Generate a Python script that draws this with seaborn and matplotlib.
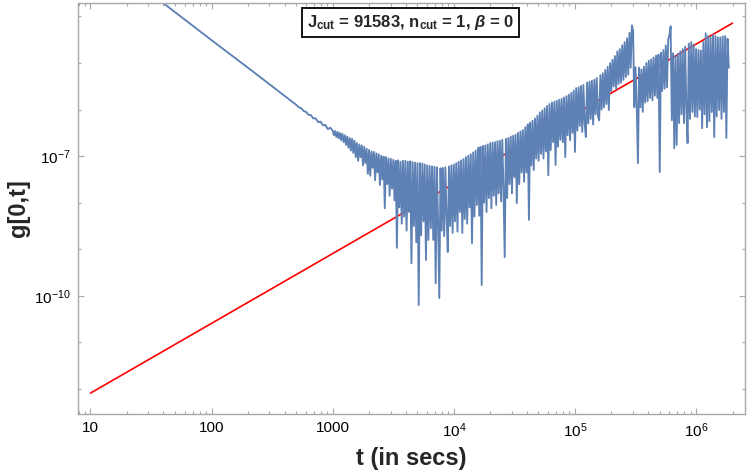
import matplotlib
matplotlib.use("Agg")
import matplotlib.pyplot as plt
from matplotlib.ticker import NullFormatter
import seaborn as sns
import pandas as pd
import numpy as np

# blue curve as log10(t), log10(g)
log_t = [1.40, 2.00, 2.30, 2.50, 2.60,
         2.70, 2.72, 2.74, 2.76, 2.78, 2.80, 2.82, 2.84, 2.86, 2.88, 2.90, 2.92, 2.94, 2.96, 2.98,
         3.00, 3.01, 3.02, 3.03, 3.04, 3.05, 3.06, 3.07, 3.08, 3.09,
         3.10, 3.11, 3.12, 3.13, 3.14, 3.15, 3.16, 3.17, 3.18, 3.19,
         3.20, 3.21, 3.22, 3.23, 3.24, 3.25, 3.26, 3.27, 3.28, 3.29,
         3.30, 3.31, 3.32, 3.33, 3.34, 3.35, 3.36, 3.37, 3.38, 3.39,
         3.40, 3.41, 3.42, 3.43, 3.44, 3.45, 3.46, 3.47, 3.48, 3.49,
         3.50, 3.51, 3.52, 3.53, 3.54, 3.55, 3.56, 3.57, 3.58, 3.59,
         3.60, 3.61, 3.62, 3.63, 3.64, 3.65, 3.66, 3.67, 3.68, 3.69,
         3.70, 3.71, 3.72, 3.73, 3.74, 3.75, 3.76, 3.77, 3.78, 3.79,
         3.80, 3.81, 3.82, 3.83, 3.84, 3.85, 3.86, 3.87, 3.88, 3.89,
         3.90, 3.91, 3.92, 3.93, 3.94, 3.95, 3.96, 3.97, 3.98, 3.99,
         4.00, 4.01, 4.02, 4.03, 4.04, 4.05, 4.06, 4.07, 4.08, 4.09,
         4.10, 4.11, 4.12, 4.13, 4.14, 4.15, 4.16, 4.17, 4.18, 4.19,
         4.20, 4.21, 4.22, 4.23, 4.24, 4.25, 4.26, 4.27, 4.28, 4.29,
         4.30, 4.31, 4.32, 4.33, 4.34, 4.35, 4.36, 4.37, 4.38, 4.39,
         4.40, 4.41, 4.42, 4.43, 4.44, 4.45, 4.46, 4.47, 4.48, 4.49,
         4.50, 4.51, 4.52, 4.53, 4.54, 4.55, 4.56, 4.57, 4.58, 4.59,
         4.60, 4.61, 4.62, 4.63, 4.64, 4.65, 4.66, 4.67, 4.68, 4.69,
         4.70, 4.71, 4.72, 4.73, 4.74, 4.75, 4.76, 4.77, 4.78, 4.79,
         4.80, 4.81, 4.82, 4.83, 4.84, 4.85, 4.86, 4.87, 4.88, 4.89,
         4.90, 4.91, 4.92, 4.93, 4.94, 4.95, 4.96, 4.97, 4.98, 4.99,
         5.00, 5.01, 5.02, 5.03, 5.04, 5.05, 5.06, 5.07, 5.08, 5.09,
         5.10, 5.11, 5.12, 5.13, 5.14, 5.15, 5.16, 5.17, 5.18, 5.19,
         5.20, 5.21, 5.22, 5.23, 5.24, 5.25, 5.26, 5.27, 5.28, 5.29,
         5.30, 5.31, 5.32, 5.33, 5.34, 5.35, 5.36, 5.37, 5.38, 5.39,
         5.40, 5.41, 5.42, 5.43, 5.44, 5.45, 5.46, 5.47, 5.48, 5.49,
         5.50, 5.51, 5.52, 5.53, 5.54, 5.55, 5.56, 5.57, 5.58, 5.59,
         5.60, 5.61, 5.62, 5.63, 5.64, 5.65, 5.66, 5.67, 5.68, 5.69,
         5.70, 5.71, 5.72, 5.73, 5.74, 5.75, 5.76, 5.77, 5.78, 5.79,
         5.80, 5.81, 5.82, 5.83, 5.84, 5.85, 5.86, 5.87, 5.88, 5.89,
         5.90, 5.91, 5.92, 5.93, 5.94, 5.95, 5.96, 5.97, 5.98, 5.99,
         6.00, 6.01, 6.02, 6.03, 6.04, 6.05, 6.06, 6.07, 6.08, 6.09,
         6.10, 6.11, 6.12, 6.13, 6.14, 6.15, 6.16, 6.17, 6.18, 6.19,
         6.20, 6.21, 6.22, 6.23, 6.24, 6.25, 6.26, 6.27]
log_g = [-3.31, -4.51, -5.10, -5.50, -5.70,
         -5.90, -5.95, -5.97, -6.03, -6.05, -6.11, -6.12, -6.19, -6.19, -6.27, -6.26, -6.34, -6.33, -6.42, -6.39,
         -6.45, -6.55, -6.46, -6.59, -6.48, -6.62, -6.50, -6.66, -6.52, -6.70,
         -6.55, -6.76, -6.58, -6.82, -6.61, -6.88, -6.63, -6.93, -6.67, -7.02,
         -6.72, -7.10, -6.75, -7.02, -6.77, -7.20, -6.80, -7.15, -6.84, -7.38,
         -6.87, -7.42, -6.90, -7.25, -6.91, -7.52, -6.94, -7.35, -6.96, -7.62,
         -6.99, -7.50, -7.01, -8.12, -7.02, -7.60, -7.05, -7.85, -7.06, -7.70,
         -7.08, -7.95, -7.10, -8.97, -7.09, -8.10, -7.12, -8.45, -7.10, -8.30,
         -7.10, -8.60, -7.12, -8.20, -7.11, -9.30, -7.13, -8.50, -7.14, -8.85,
         -7.15, -10.20, -7.15, -8.70, -7.16, -8.40, -7.18, -9.23, -7.20, -8.80,
         -7.21, -8.55, -7.22, -8.80, -7.23, -9.73, -7.24, -8.40, -10.05, -7.26,
         -8.60, -7.25, -8.72, -7.24, -8.30, -9.06, -7.22, -8.50, -7.20, -8.65,
         -7.18, -8.40, -7.15, -8.62, -7.12, -8.20, -7.09, -8.65, -7.06, -8.35,
         -7.02, -8.45, -6.99, -8.10, -6.96, -8.87, -6.92, -8.30, -6.88, -8.05,
         -6.82, -8.28, -6.80, -9.77, -6.78, -8.00, -6.77, -8.20, -6.75, -7.90,
         -6.72, -8.12, -6.71, -7.85, -6.70, -8.05, -6.68, -7.80, -6.67, -7.97,
         -6.65, -7.70, -9.17, -6.63, -7.90, -6.61, -7.60, -6.58, -7.80, -6.56,
         -7.45, -6.54, -8.01, -6.50, -7.60, -6.47, -7.35, -6.44, -7.55, -6.38,
         -7.35, -6.32, -8.37, -6.28, -7.20, -6.24, -7.30, -6.19, -7.05, -6.13,
         -7.10, -6.06, -6.95, -6.02, -7.05, -5.97, -6.90, -5.92, -7.41, -5.88,
         -6.87, -5.85, -6.70, -5.83, -7.19, -5.81, -6.80, -5.79, -6.65, -5.77,
         -6.70, -5.74, -7.02, -5.71, -6.55, -5.68, -6.66, -5.64, -6.50, -5.59,
         -6.91, -5.54, -6.45, -5.52, -6.35, -5.49, -6.48, -5.47, -6.30, -6.59,
         -5.42, -6.30, -5.40, -6.20, -5.38, -6.32, -5.36, -6.10, -5.32, -6.15,
         -6.23, -5.26, -6.00, -5.22, -5.95, -5.15, -5.88, -5.08, -6.01, -5.00,
         -5.60, -4.93, -5.50, -4.85, -5.55, -4.75, -5.45, -4.70, -5.42, -4.62,
         -5.36, -4.55, -5.30, -4.47, -5.25, -4.35, -5.10, -4.19, -4.30, -5.95,
         -5.09, -5.90, -7.15, -5.10, -5.95, -5.14, -6.05, -5.08, -5.85, -5.00,
         -5.82, -4.95, -5.75, -4.92, -5.80, -4.88, -5.70, -4.84, -5.75, -4.82,
         -7.34, -4.78, -5.60, -4.72, -5.55, -4.62, -5.52, -4.50, -4.40, -4.21,
         -6.23, -4.79, -6.83, -4.85, -6.76, -4.80, -6.29, -4.75, -6.10, -4.70,
         -6.29, -4.65, -6.00, -6.72, -4.58, -6.20, -4.55, -6.05, -4.60, -6.15,
         -4.70, -6.16, -4.72, -6.00, -4.73, -6.40, -4.55, -6.10, -4.36, -6.38,
         -4.42, -6.25, -4.45, -6.05, -4.40, -6.59, -4.42, -6.15, -4.45, -6.01,
         -4.45, -6.20, -4.43, -6.05, -4.42, -6.61, -4.48, -5.10]

# red power law guide
red_t = [10, 2.0e6]
red_g = [8.1e-13, 7.2e-5]

xtick_vals = [10, 100, 1000, 1e4, 1e5, 1e6]
xtick_labels = ["10", "100", "1000", r"$10^{4}$", r"$10^{5}$", r"$10^{6}$"]
ytick_vals = [1e-7, 1e-10]
ytick_labels = [r"$10^{-7}$", r"$10^{-10}$"]
ytick_minor = [1e-12, 1e-11, 1e-9, 1e-8, 1e-6, 1e-5, 1e-4]

blue = pd.DataFrame({"t": 10.0 ** np.array(log_t), "g": 10.0 ** np.array(log_g)})
red = pd.DataFrame({"t": red_t, "g": red_g})

sns.set_style("ticks")
plt.rcParams['font.family'] = ['Liberation Sans', 'DejaVu Sans']
plt.rcParams.update({
    'mathtext.fontset': 'custom',
    'mathtext.rm': 'Liberation Sans',
    'mathtext.it': 'Liberation Sans:italic',
    'mathtext.bf': 'Liberation Sans:bold',
})
if 'mathtext.bfit' in plt.rcParams:
    plt.rcParams['mathtext.bfit'] = 'Liberation Sans:bold:italic'

fig = plt.figure(figsize=(7.47, 4.74), dpi=100)
ax = fig.add_axes([78 / 747, 60 / 474, 667 / 747, 411 / 474])

sns.lineplot(data=red, x="t", y="g", color="#ff0000", linewidth=1.2,
             estimator=None, sort=False, ax=ax)
sns.lineplot(data=blue, x="t", y="g", color="#5e81b5", linewidth=1.35,
             estimator=None, sort=False, ax=ax)

ax.set_xscale("log")
ax.set_yscale("log")

ax.set_xticks(xtick_vals)
ax.set_xticklabels(xtick_labels)
ax.set_xticks([k * 10.0 ** d for d in range(0, 7) for k in range(2, 10)], minor=True)
ax.xaxis.set_minor_formatter(NullFormatter())
ax.set_yticks(ytick_vals)
ax.set_yticklabels(ytick_labels)
ax.set_yticks(ytick_minor, minor=True)
ax.yaxis.set_minor_formatter(NullFormatter())
ax.set_xlim(10 ** 0.897, 10 ** 6.404)
ax.set_ylim(10 ** -12.54, 10 ** -3.71)

gray = "#a8a8a8"
for s in ax.spines.values():
    s.set_color(gray)
    s.set_linewidth(1.0)
ax.tick_params(which="both", direction="in", top=True, right=True, color=gray,
               labelcolor="black", labelsize=11, width=0.8)
ax.tick_params(which="major", length=4.3, pad=5)
ax.tick_params(which="minor", length=2.4)

ax.set_xlabel("t (in secs)", fontsize=17, fontweight="bold")
ax.set_ylabel("g[0,t]", fontsize=17, fontweight="bold")
ax.xaxis.set_label_coords(0.5, -0.08)
ax.yaxis.set_label_coords(-0.072, 0.5)

ax.text(0.499, 0.953,
        r"J$_{\mathbf{cut}}$ = 91583, n$_{\mathbf{cut}}$ = 1, $\mathbfit{\beta}$ = 0",
        transform=ax.transAxes, ha="center", va="center", fontsize=12,
        fontweight="bold",
        bbox=dict(boxstyle="square,pad=0.3", fc="white", ec="black", lw=1.3))

fig.savefig("out.png", dpi=100)
